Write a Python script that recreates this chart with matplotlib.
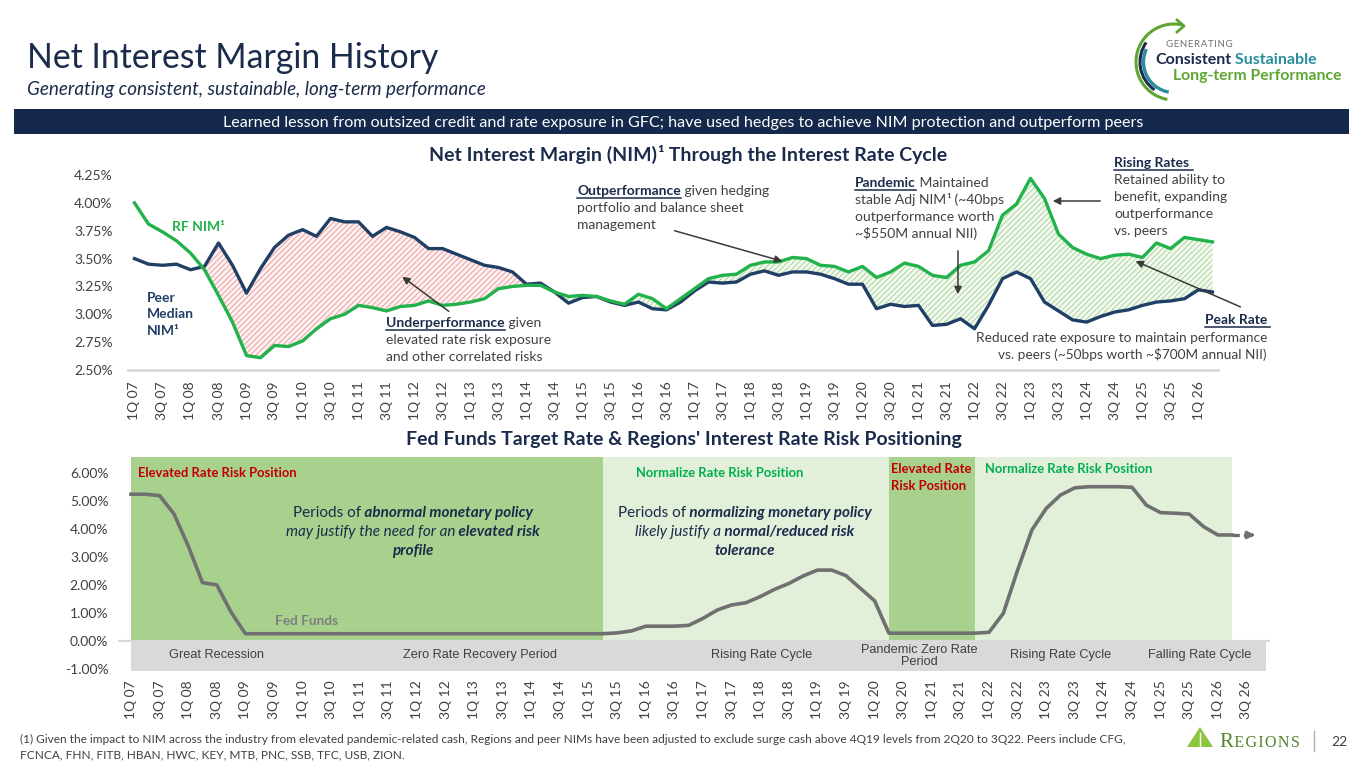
import matplotlib.pyplot as plt
from matplotlib.patches import Rectangle, Arc, Polygon
import numpy as np

# quarterly categories, 1Q07 .. 3Q26
quarters = ["%dQ %02d" % (q, y) for y in range(7, 27) for q in (1, 2, 3, 4)][:79]

# Net interest margin (%), 1Q07 .. 2Q26
rf_nim = [4.00, 3.81, 3.74, 3.66, 3.55, 3.40, 3.17, 2.93, 2.63, 2.61,
          2.72, 2.71, 2.76, 2.87, 2.96, 3.00, 3.08, 3.06, 3.03, 3.07,
          3.08, 3.12, 3.08, 3.09, 3.11, 3.14, 3.23, 3.25, 3.26, 3.26,
          3.20, 3.16, 3.17, 3.16, 3.12, 3.09, 3.18, 3.14, 3.05, 3.14,
          3.23, 3.32, 3.35, 3.36, 3.44, 3.47, 3.47, 3.51, 3.50, 3.44,
          3.43, 3.38, 3.43, 3.33, 3.38, 3.46, 3.43, 3.35, 3.33, 3.44,
          3.47, 3.57, 3.89, 3.99, 4.22, 4.04, 3.72, 3.60, 3.54, 3.50,
          3.53, 3.54, 3.51, 3.64, 3.59, 3.69, 3.67, 3.65]
peer_nim = [3.50, 3.45, 3.44, 3.45, 3.40, 3.43, 3.64, 3.44, 3.19, 3.41,
            3.60, 3.71, 3.76, 3.70, 3.86, 3.83, 3.83, 3.70, 3.78, 3.74,
            3.69, 3.59, 3.59, 3.54, 3.49, 3.44, 3.42, 3.38, 3.27, 3.28,
            3.20, 3.10, 3.15, 3.16, 3.11, 3.08, 3.11, 3.05, 3.04, 3.11,
            3.21, 3.29, 3.28, 3.29, 3.36, 3.39, 3.35, 3.38, 3.38, 3.36,
            3.32, 3.27, 3.27, 3.05, 3.09, 3.07, 3.08, 2.90, 2.91, 2.96,
            2.87, 3.08, 3.32, 3.38, 3.32, 3.11, 3.03, 2.95, 2.93, 2.98,
            3.02, 3.04, 3.08, 3.11, 3.12, 3.14, 3.22, 3.20]

# Fed funds target (%), 1Q07 .. 2Q26, plus projection to 3Q26
fed_funds = [5.25, 5.25, 5.20, 4.55, 3.40, 2.08, 2.00, 1.02, 0.25, 0.25,
             0.25, 0.25, 0.25, 0.25, 0.25, 0.25, 0.25, 0.25, 0.25, 0.25,
             0.25, 0.25, 0.25, 0.25, 0.25, 0.25, 0.25, 0.25, 0.25, 0.25,
             0.25, 0.25, 0.25, 0.25, 0.28, 0.35, 0.52, 0.52, 0.52, 0.55,
             0.80, 1.10, 1.28, 1.36, 1.58, 1.84, 2.05, 2.32, 2.53, 2.53,
             2.33, 1.88, 1.43, 0.27, 0.27, 0.27, 0.27, 0.27, 0.27, 0.27,
             0.30, 0.98, 2.53, 3.97, 4.74, 5.22, 5.48, 5.52, 5.52, 5.52,
             5.50, 4.86, 4.59, 4.57, 4.54, 4.09, 3.79, 3.79]
fed_proj = [3.79, 3.79]

# risk positioning periods (quarter index start, end, label, kind)
positions = [(0, 33, "Elevated Rate Risk Position", "elevated"),
             (33, 53, "Normalize Rate Risk Position", "normal"),
             (53, 59, "Elevated Rate\nRisk Position", "elevated"),
             (59, 77, "Normalize Rate Risk Position", "normal")]
cycles = [("Great Recession", 6.0), ("Zero Rate Recovery Period", 24.4),
          ("Rising Rate Cycle", 44.1), ("Pandemic Zero Rate\nPeriod", 55.1),
          ("Rising Rate Cycle", 65.0), ("Falling Rate Cycle", 74.7)]

W, H = 1365, 768
NAVY = '#1b2b4b'
GREEN = '#21b24b'
PEER = '#1f3f66'
TXT = '#404040'
FONT = ['Lato', 'DejaVu Sans']
plt.rcParams['font.family'] = FONT
plt.rcParams['hatch.linewidth'] = 0.7

fig = plt.figure(figsize=(W / 100, H / 100), dpi=100)


def px_axes(left, top, right, bottom):
    return fig.add_axes([left / W, 1 - bottom / H, (right - left) / W, (bottom - top) / H])


# ---------------- top chart: NIM ----------------
ax1 = px_axes(128, 165, 1218, 370)
x = np.arange(len(rf_nim))
rf = np.array(rf_nim)
pr = np.array(peer_nim)
ax1.fill_between(x, rf, pr, where=(pr > rf) & (x >= 4), interpolate=True,
                 facecolor='#fdf1f1', edgecolor='#ef9c9c', hatch='//////', lw=0)
ax1.fill_between(x, rf, pr, where=(rf >= pr) & (x >= 30), interpolate=True,
                 facecolor='#f3f9f0', edgecolor='#a8d69b', hatch='//////', lw=0)
ax1.plot(x, peer_nim, color=PEER, lw=2.4, zorder=3)
ax1.plot(x, rf_nim, color=GREEN, lw=2.4, zorder=4)
ax1.set_xlim((128 - 134.5) / 14.0, (1218 - 134.5) / 14.0)
ax1.set_ylim(2.5, 2.5 + (370 - 165) / 111.4)
ax1.set_yticks(np.arange(2.5, 4.26, 0.25))
ax1.set_yticklabels(["%.2f%%" % v for v in np.arange(2.5, 4.26, 0.25)])
ax1.set_xticks(x[::2])
ax1.set_xticklabels(quarters[:78:2], rotation=90)
ax1.tick_params(axis='y', length=0, pad=11, labelsize=10, labelcolor=TXT)
ax1.tick_params(axis='x', length=0, pad=8, labelsize=10, labelcolor=TXT)
for s in ('top', 'right', 'left'):
    ax1.spines[s].set_visible(False)
ax1.spines['bottom'].set_color('#d9d9d9')
ax1.spines['bottom'].set_linewidth(2)
ax1.patch.set_alpha(0)

# ---------------- bottom chart: Fed funds ----------------
ax2 = px_axes(118, 455, 1270, 672)
ax2.set_xlim((118 - 131) / 14.3, (1270 - 131) / 14.3)
ax2.set_ylim(-(672 - 640.7) / 27.9, (640.7 - 455) / 27.9)
band_top = 6.59
for a, b, lab, kind in positions:
    ax2.add_patch(Rectangle((a, 0), b - a, band_top, color='#a9d18e' if kind == 'elevated' else '#e2efd9', lw=0, zorder=0))
ax2.add_patch(Rectangle((0, -1.07), 79.4, 1.07, color='#d9d9d9', lw=0, zorder=0))
ax2.axhline(0, color='#d9d9d9', lw=1.5, zorder=0)
for lab, xc in cycles:
    ax2.text(xc, -0.56 if "\n" in lab else -0.52, lab, ha='center', va='center', fontsize=9.2, color=TXT,
             family=['Liberation Sans', 'DejaVu Sans'], linespacing=1.0)
xf = np.arange(len(fed_funds))
ax2.plot(xf, fed_funds, color='#707070', lw=2.6, zorder=3, solid_joinstyle='round')
xp = np.arange(len(fed_funds) - 1, len(fed_funds) - 1 + len(fed_proj))
ax2.plot(xp, fed_proj, color='#707070', lw=2.4, ls=(0, (2.2, 1.2)), zorder=3)
ax2.annotate('', xy=(xp[-1] + 0.8, fed_proj[-1]), xytext=(xp[-1] + 0.1, fed_proj[-1]),
             arrowprops=dict(arrowstyle='-|>', color='#707070', lw=2.2, mutation_scale=10))
ax2.set_yticks(range(-1, 7))
ax2.set_yticklabels(["%.2f%%" % v for v in range(-1, 7)])
ax2.set_xticks(xf[::2].tolist() + [78])
ax2.set_xticklabels(quarters[:78:2] + [quarters[78]], rotation=90)
ax2.tick_params(axis='y', length=0, pad=7, labelsize=10, labelcolor=TXT)
ax2.tick_params(axis='x', length=0, pad=6, labelsize=10, labelcolor=TXT)
for s in ax2.spines.values():
    s.set_visible(False)
ax2.patch.set_alpha(0)

# ---------------- overlay in pixel coordinates ----------------
ov = fig.add_axes([0, 0, 1, 1], facecolor='none')
ov.set_xlim(0, W)
ov.set_ylim(H, 0)
ov.axis('off')
r = fig.canvas.get_renderer()


def rich(x0, y, parts, ha='left', size=10):
    objs = []
    for s, st in parts:
        kw = dict(fontsize=size, va='baseline', ha='left')
        kw.update(st)
        objs.append(ov.text(0, y, s, **kw))
    ws = [t.get_window_extent(r).width for t in objs]
    pos = x0 - sum(ws) / 2 if ha == 'center' else (x0 - sum(ws) if ha == 'right' else x0)
    for t, w in zip(objs, ws):
        t.set_x(pos)
        pos += w
    return objs


def underline(t, y, color, extra=0):
    bb = t.get_window_extent(r)
    ov.plot([bb.x0, bb.x1 + extra], [y + 2.5, y + 2.5], color=color, lw=1.1)


def arrow(x0, y0, x1, y1):
    ov.annotate('', xy=(x1, y1), xytext=(x0, y0),
                arrowprops=dict(arrowstyle='-|>', color='#3a3a3a', lw=1.1, mutation_scale=11))


N = dict(color=NAVY)
NB = dict(color=NAVY, fontweight='bold')
G = dict(color=TXT)
AS = 10  # annotation font size

# header
ov.text(27, 68, "Net Interest Margin History", fontsize=24.3, color=NAVY, va='baseline')
ov.text(27, 95, "Generating consistent, sustainable, long-term performance", fontsize=13.6,
        style='italic', color=NAVY, va='baseline')
ov.add_patch(Rectangle((14, 109), 1335, 25, color='#14294b', lw=0))
ov.text(683, 127, "Learned lesson from outsized credit and rate exposure in GFC; have used hedges to "
        "achieve NIM protection and outperform peers", fontsize=11.6, color='white', ha='center', va='baseline')

# logo
cx, cy = 1174, 62
ov.add_patch(Arc((cx, cy), 76, 76, theta1=100, theta2=283, color='#5ea531', lw=2.2))
ov.add_patch(Arc((cx, cy), 68, 68, theta1=125, theta2=215, color='#1b2b4b', lw=2.2))
ov.add_patch(Arc((cx, cy), 61, 61, theta1=100, theta2=205, color='#2a8c9c', lw=2.4))
ov.plot([1177, 1184, 1177], [20, 26, 32], color='#5ea531', lw=2)
ov.text(1166, 47, "G\u200aE\u200aN\u200aE\u200aR\u200aA\u200aT\u200aI\u200aN\u200aG", fontsize=7,
        color='#707070', va='baseline', family=['Lato', 'DejaVu Sans'])
rich(1155, 64, [("Consistent", dict(color=NAVY, fontweight='bold')),
                (" Sustainable", dict(color='#2a8c9c', fontweight='bold'))], size=11.5)
ov.text(1173, 80, "Long-term Performance", fontsize=11.3, color='#5ea531', fontweight='bold', va='baseline')

# chart titles
rich(688, 161, [("Net Interest Margin (NIM)", NB), ("\u00b9", NB), (" Through the Interest Rate Cycle", NB)],
     ha='center', size=14)
rich(684, 445, [("Fed Funds Target Rate & Regions' Interest Rate Risk Positioning", NB)], ha='center', size=14)

# top chart annotations
ov.text(172, 231, "RF NIM\u00b9", fontsize=AS, color=GREEN, fontweight='bold', va='baseline')
for i, s in enumerate(["Peer", "Median", "NIM\u00b9"]):
    ov.text(147, 302 + 16.5 * i, s, fontsize=AS, color=PEER, fontweight='bold', va='baseline')

t = rich(386, 327, [("Underperformance", NB), (" given", G)], size=AS)
underline(t[0], 327, NAVY)
ov.text(386, 344, "elevated rate risk exposure", fontsize=AS, color=TXT, va='baseline')
ov.text(386, 361, "and other correlated risks", fontsize=AS, color=TXT, va='baseline')
arrow(451, 313, 400, 275)

t = rich(577, 195, [("Outperformance", NB), (" given hedging", G)], size=AS)
underline(t[0], 195, NAVY)
ov.text(577, 212, "portfolio and balance sheet", fontsize=AS, color=TXT, va='baseline')
ov.text(577, 229, "management", fontsize=AS, color=TXT, va='baseline')
arrow(672, 230, 785, 262)

t = rich(855, 187, [("Pandemic", NB), (" Maintained", G)], size=AS)
underline(t[0], 187, NAVY)
rich(855, 204, [("stable Adj NIM", G), ("\u00b9", G), (" (~40bps", G)], size=AS)
ov.text(855, 221, "outperformance worth", fontsize=AS, color=TXT, va='baseline')
ov.text(855, 238, "~$550M annual NII)", fontsize=AS, color=TXT, va='baseline')
arrow(958, 248, 958, 297)

t = rich(1114, 167, [("Rising Rates", NB)], size=AS)
underline(t[0], 167, NAVY, extra=4)
for i, s in enumerate(["Retained ability to", "benefit, expanding", "outperformance", "vs. peers"]):
    ov.text(1114, 184 + 17 * i, s, fontsize=AS, color=TXT, va='baseline')
arrow(1103, 201, 1050, 201)

t = rich(1267, 324, [("Peak Rate", NB)], ha='right', size=AS)
bb = t[0].get_window_extent(r)
ov.plot([bb.x0, bb.x1 + 3], [326.5, 326.5], color=NAVY, lw=1.1)
ov.text(1267, 342, "Reduced rate exposure to maintain performance", fontsize=9.8, color=TXT,
        ha='right', va='baseline')
ov.text(1267, 359, "vs. peers (~50bps worth ~$700M annual NII)", fontsize=9.8, color=TXT,
        ha='right', va='baseline')
arrow(1243, 308, 1133, 260)

# bottom chart annotations
RED = '#c00000'
LG = '#00b050'
ov.text(138, 477, positions[0][2], fontsize=9.4, color=RED, fontweight='bold', va='baseline')
ov.text(636, 477, positions[1][2], fontsize=9.4, color=LG, fontweight='bold', va='baseline')
for i, s in enumerate(positions[2][2].split("\n")):
    ov.text(891, 473 + 17 * i, s, fontsize=9.4, color=RED, fontweight='bold', va='baseline')
ov.text(985, 473, positions[3][2], fontsize=9.4, color=LG, fontweight='bold', va='baseline')

BI = dict(color=NAVY, fontweight='bold', style='italic')
IT = dict(color=NAVY, style='italic')
rich(413, 517, [("Periods of", N), (" abnormal monetary policy", BI)], ha='center', size=11)
rich(413, 536, [("may justify the need for an", IT), (" elevated risk", BI)], ha='center', size=11)
rich(413, 555, [("profile", BI)], ha='center', size=11)
rich(745, 517, [("Periods of", N), (" normalizing monetary policy", BI)], ha='center', size=11)
rich(745, 536, [("likely justify a", IT), (" normal/reduced risk", BI)], ha='center', size=11)
rich(745, 555, [("tolerance", BI)], ha='center', size=11)
ov.text(275, 625, "Fed Funds", fontsize=9.8, color='#7f7f7f', fontweight='bold', va='baseline')

# footnote
ov.text(20, 743, "(1) Given the impact to NIM across the industry from elevated pandemic-related cash, Regions and "
        "peer NIMs have been adjusted to exclude surge cash above 4Q19 levels from 2Q20 to 3Q22. Peers include CFG,",
        fontsize=8.6, color=TXT, va='baseline')
ov.text(20, 758, "FCNCA, FHN, FITB, HBAN, HWC, KEY, MTB, PNC, SSB, TFC, USB, ZION.",
        fontsize=8.6, color=TXT, va='baseline')

# regions logo and page number
ov.add_patch(Polygon([[1187, 747], [1200, 727], [1213, 747]], closed=True, color='#8cc63f', lw=0))
ov.plot([1200, 1200], [733, 747], color='white', lw=1)
rich(1219, 747, [("R", dict(color='#55822b', family=['Liberation Serif'])),
                 ("\u200aE\u200aG\u200aI\u200aO\u200aN\u200aS", dict(color='#55822b', family=['Liberation Serif', 'DejaVu Serif'],
                                                    fontsize=11.5))], size=15)
ov.plot([1314, 1314], [731, 751], color='#b0b0b0', lw=1)
ov.text(1331, 746, "22", fontsize=10, color=TXT, va='baseline')

fig.savefig('out.png', dpi=100)
